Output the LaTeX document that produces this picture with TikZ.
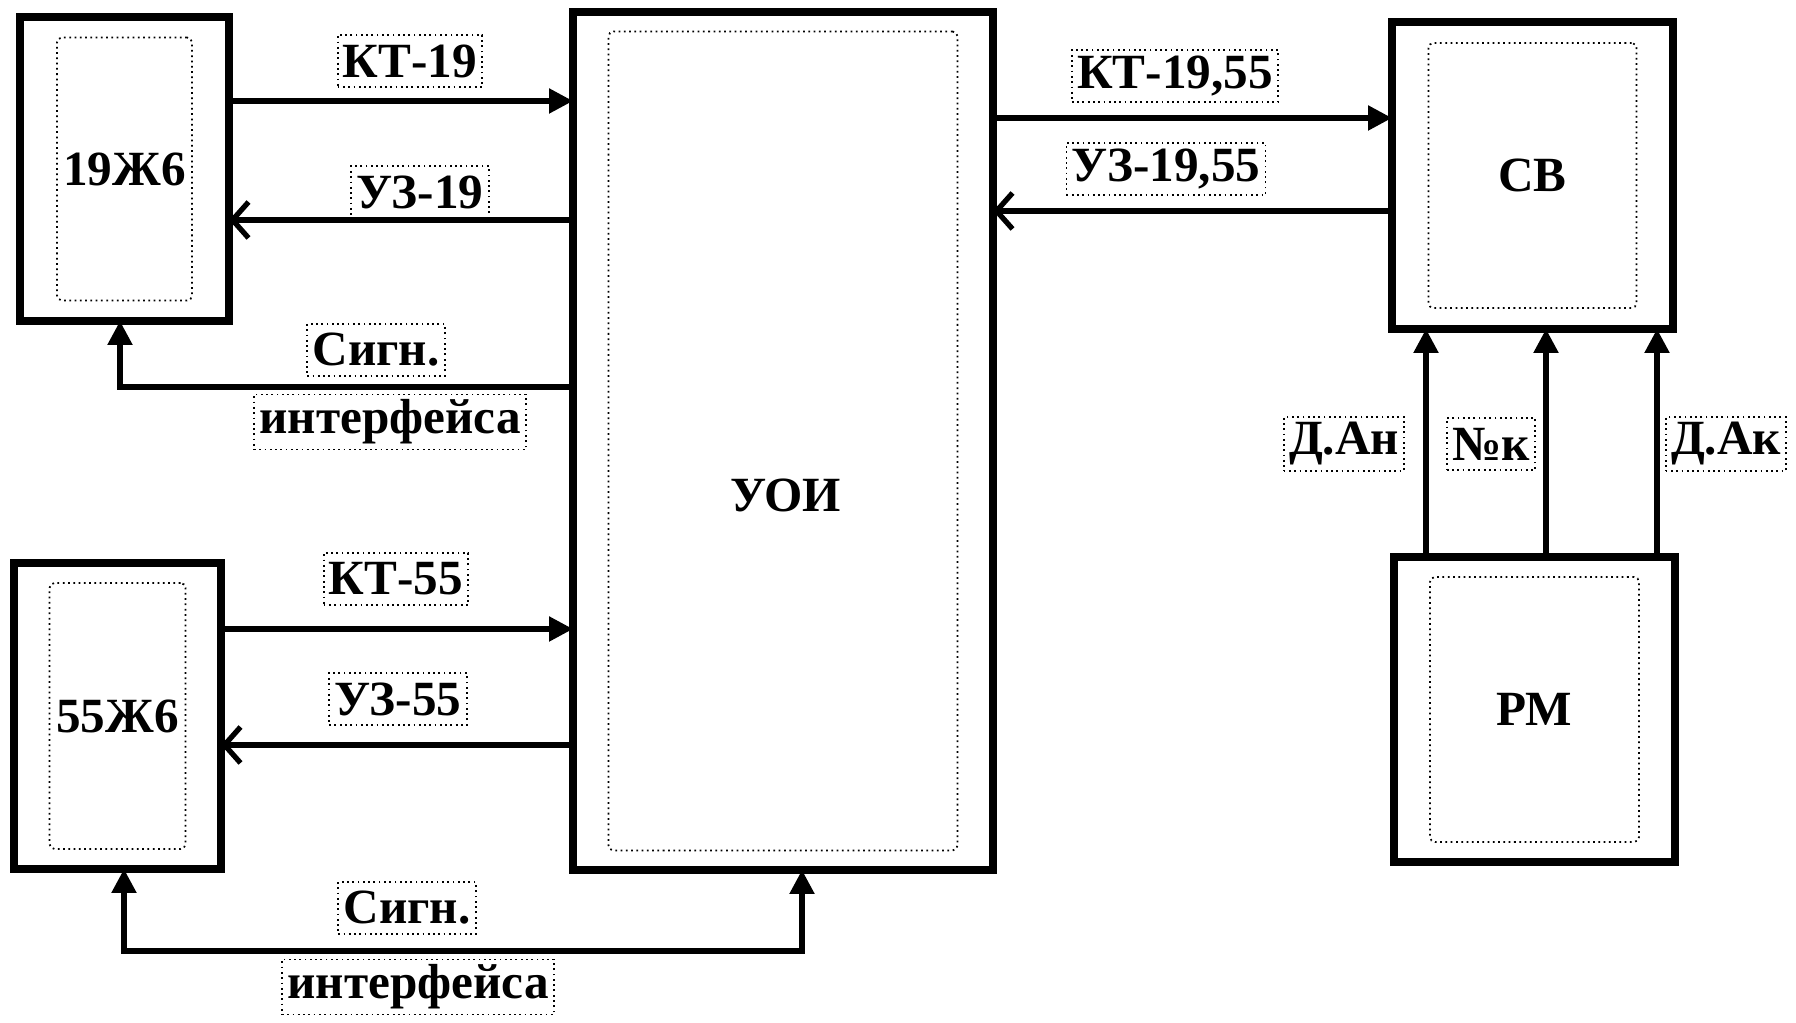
\documentclass[tikz,border=0pt]{standalone}
\usepackage{fontspec}
\setmainfont{Liberation Serif}
\usetikzlibrary{arrows.meta,positioning,calc}
\tikzset{blk/.style={draw,line width=2.4pt,inner sep=0pt,outer sep=0pt,font=\fontsize{14}{16}\selectfont\bfseries},inr/.style={draw,densely dotted,line width=.5pt,rounded corners=.5mm,inner sep=0pt},lbl/.style={draw,densely dotted,line width=.5pt,inner sep=1.5pt,minimum height=5.2mm,font=\fontsize{14}{16}\selectfont\bfseries},flow/.style={-{Triangle[length=2.4mm,width=2.4mm]},line width=1.5pt},flowb/.style={{Triangle[length=2.4mm,width=2.4mm]}-{Triangle[length=2.4mm,width=2.4mm]},line width=1.5pt},back/.style={-{Straight Barb[length=1.6mm,width=3.6mm]},line width=1.5pt}}
\begin{document}
\begin{tikzpicture}
\useasboundingbox (0,0) rectangle (17.96,10.23);
\node[blk,minimum width=20.9mm,minimum height=30.4mm] (z19) at (1.245,8.54) {19Ж6};
\node[inr,minimum width=13.5mm,minimum height=26.3mm] (z19i) at (z19) {};
\node[blk,minimum width=42mm,minimum height=85.8mm] (uoi) at (7.83,5.82) {};
\node[inr,minimum width=34.9mm,minimum height=81.9mm] (uoii) at (uoi) {};
\node[font=\fontsize{14}{16}\selectfont\bfseries] (uoit) at (7.86,5.28) {УОИ};
\node[blk,minimum width=20.7mm,minimum height=30.6mm] (z55) at (1.175,3.07) {55Ж6};
\node[inr,minimum width=13.6mm,minimum height=26.6mm] (z55i) at (z55) {};
\node[blk,minimum width=28.1mm,minimum height=30.7mm] (sv) at (15.325,8.475) {СВ};
\node[inr,minimum width=20.8mm,minimum height=26.5mm] (svi) at (sv) {};
\node[blk,minimum width=28.1mm,minimum height=30.5mm] (rm) at (15.345,3.135) {РМ};
\node[inr,minimum width=20.9mm,minimum height=26.5mm] (rmi) at (rm) {};
\node[lbl] (kt19) at (4.10,9.62) {КТ-19};
\node[lbl] (uz19) at (4.20,8.31) {УЗ-19};
\node[lbl] (sig1) at (3.76,6.73) {Сигн.};
\node[lbl] (int1) at (3.90,6.01) {интерфейса};
\node[lbl] (kt55) at (3.96,4.44) {КТ-55};
\node[lbl] (uz55) at (3.98,3.24) {УЗ-55};
\node[lbl] (sig2) at (4.07,1.15) {Сигн.};
\node[lbl] (int2) at (4.18,0.36) {интерфейса};
\node[lbl] (kt1955) at (11.75,9.47) {КТ-19,55};
\node[lbl] (uz1955) at (11.66,8.54) {УЗ-19,55};
\node[lbl] (dan) at (13.44,5.79) {Д.Ан};
\node[lbl] (nk) at (14.91,5.79) {№к};
\node[lbl] (dak) at (17.26,5.79) {Д.Ак};
\draw[flow]([yshift=6.8mm]z19.east)--([yshift=6.8mm]z19.east -| uoi.west);
\draw[back]([yshift=-5.1mm]z19.east -| uoi.west)--([yshift=-5.1mm]z19.east);
\draw[flow]([yshift=5.4mm]uoi.west)-|([xshift=-.45mm]z19.south);
\draw[flow]([yshift=8.7mm]z55.east)--([yshift=8.7mm]z55.east -| uoi.west);
\draw[back]([yshift=-2.9mm]z55.east -| uoi.west)--([yshift=-2.9mm]z55.east);
\coordinate (bus) at (4.6,0.72);
\draw[flowb]([xshift=.65mm]z55.south)|-(bus)-|([xshift=1.9mm]uoi.south);
\draw[flow]([yshift=5.75mm]sv.west -| uoi.east)--([yshift=5.75mm]sv.west);
\draw[back]([yshift=-3.55mm]sv.west)--([yshift=-3.55mm]sv.west -| uoi.east);
\foreach \dx in {-10.85,1.15,12.25} \draw[flow]([xshift=\dx mm]rm.north)--([xshift=\dx mm]rm.north |- sv.south);
\end{tikzpicture}
\end{document}
